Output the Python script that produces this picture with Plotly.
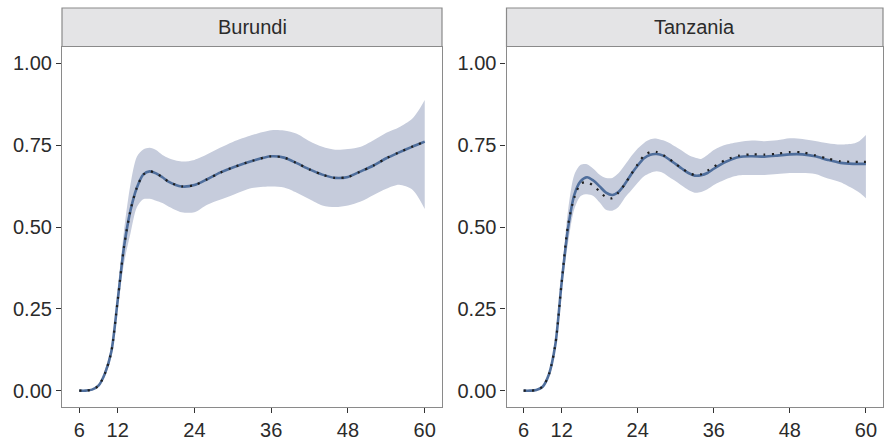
import plotly.graph_objects as go

# Age in months at which each curve is sampled
burundi_age = [6, 7, 8, 9, 10, 11, 12, 13, 14, 15, 16, 17, 18, 19, 20, 22, 24, 26, 28, 30,
               33, 36, 38, 40, 42, 44, 46, 48, 50, 52, 54, 56, 58, 59, 60]
burundi_fit = [0.0, 0.0, 0.003, 0.015, 0.052, 0.118, 0.275, 0.44, 0.55, 0.62, 0.66, 0.67, 0.664,
               0.652, 0.638, 0.624, 0.628, 0.646, 0.666, 0.682, 0.702, 0.716, 0.712, 0.695,
               0.676, 0.66, 0.65, 0.653, 0.67, 0.688, 0.71, 0.728, 0.745, 0.753, 0.761]
burundi_obs = [0.0, 0.0, 0.003, 0.015, 0.052, 0.118, 0.275, 0.44, 0.55, 0.62, 0.66, 0.67, 0.664,
               0.652, 0.638, 0.624, 0.628, 0.646, 0.666, 0.682, 0.702, 0.716, 0.712, 0.695,
               0.676, 0.66, 0.65, 0.653, 0.67, 0.688, 0.71, 0.728, 0.745, 0.753, 0.761]
burundi_hi = [0.0, 0.0, 0.004, 0.018, 0.062, 0.133, 0.30, 0.49, 0.63, 0.715, 0.737, 0.742, 0.735,
              0.72, 0.71, 0.70, 0.705, 0.722, 0.742, 0.76, 0.781, 0.796, 0.795, 0.785, 0.762,
              0.745, 0.736, 0.738, 0.745, 0.765, 0.788, 0.805, 0.83, 0.855, 0.888]
burundi_lo = [0.0, 0.0, 0.002, 0.012, 0.042, 0.103, 0.25, 0.39, 0.48, 0.56, 0.585, 0.586, 0.58,
              0.573, 0.562, 0.545, 0.545, 0.568, 0.583, 0.598, 0.619, 0.624, 0.621, 0.605,
              0.585, 0.566, 0.561, 0.566, 0.578, 0.598, 0.617, 0.629, 0.615, 0.59, 0.555]

tanzania_age = [6, 7, 8, 9, 10, 11, 12, 13, 14, 15, 16, 17, 18, 19, 20, 21, 22, 23, 24, 25, 26,
                27, 28, 29, 30, 31, 32, 33, 34, 35, 36, 37, 38, 40, 42, 44, 46, 48, 50, 52, 54,
                56, 58, 59, 60]
tanzania_fit = [0.0, 0.0, 0.002, 0.012, 0.05, 0.14, 0.33, 0.495, 0.598, 0.64, 0.652, 0.642,
                0.624, 0.605, 0.598, 0.608, 0.632, 0.662, 0.688, 0.71, 0.721, 0.723, 0.718,
                0.706, 0.692, 0.678, 0.665, 0.657, 0.658, 0.665, 0.678, 0.69, 0.70, 0.714,
                0.716, 0.715, 0.718, 0.722, 0.722, 0.716, 0.705, 0.696, 0.693, 0.693, 0.693]
tanzania_obs = [0.0, 0.0, 0.002, 0.012, 0.05, 0.14, 0.33, 0.505, 0.59, 0.632, 0.637, 0.626,
                0.608, 0.591, 0.588, 0.606, 0.632, 0.662, 0.692, 0.718, 0.729, 0.729, 0.72,
                0.708, 0.692, 0.679, 0.666, 0.659, 0.661, 0.672, 0.684, 0.696, 0.706, 0.718,
                0.722, 0.721, 0.724, 0.729, 0.728, 0.719, 0.709, 0.701, 0.699, 0.699, 0.699]
tanzania_hi = [0.0, 0.0, 0.003, 0.014, 0.057, 0.15, 0.35, 0.55, 0.66, 0.69, 0.692, 0.678, 0.66,
               0.65, 0.65, 0.665, 0.69, 0.717, 0.74, 0.757, 0.768, 0.77, 0.765, 0.757, 0.745,
               0.733, 0.72, 0.712, 0.708, 0.72, 0.735, 0.745, 0.752, 0.76, 0.764, 0.762, 0.765,
               0.771, 0.769, 0.763, 0.756, 0.752, 0.755, 0.763, 0.781]
tanzania_lo = [0.0, 0.0, 0.001, 0.01, 0.045, 0.13, 0.31, 0.45, 0.555, 0.595, 0.60, 0.595, 0.575,
               0.553, 0.55, 0.562, 0.59, 0.612, 0.635, 0.655, 0.665, 0.67, 0.665, 0.652, 0.64,
               0.626, 0.613, 0.605, 0.607, 0.615, 0.628, 0.638, 0.647, 0.658, 0.659, 0.659,
               0.662, 0.665, 0.665, 0.662, 0.648, 0.637, 0.617, 0.605, 0.588]

panel_titles = ["Burundi", "Tanzania"]
x_ticks = [6, 12, 24, 36, 48, 60]
y_ticks = [0.0, 0.25, 0.5, 0.75, 1.0]
y_tick_text = ["0.00", "0.25", "0.50", "0.75", "1.00"]

RIBBON = "#c6ccdc"
FIT_LINE = "#4f6e9c"
OBS_DOTS = "#1e1e1e"
BORDER = "#8a8a8a"
TEXT = "#2b2b2b"
FONT = "Liberation Sans, Arial, sans-serif"

W, H = 884, 440
x_domains = [(62 / W, 442 / W), (506.5 / W, 883 / W)]
y_domain = ((H - 407) / H, (H - 47) / H)
strip_y = ((H - 46.5) / H, (H - 8) / H)

fig = go.Figure()

panels = [
    (burundi_age, burundi_fit, burundi_obs, burundi_hi, burundi_lo),
    (tanzania_age, tanzania_fit, tanzania_obs, tanzania_hi, tanzania_lo),
]

for i, (age, fit, obs, hi, lo) in enumerate(panels):
    xa = "x" if i == 0 else "x2"
    ya = "y" if i == 0 else "y2"
    # confidence band: lower edge then upper edge filled to it
    fig.add_trace(go.Scatter(x=age, y=lo, xaxis=xa, yaxis=ya, mode="lines",
                             line=dict(width=0, shape="spline", smoothing=0.8),
                             hoverinfo="skip", showlegend=False))
    fig.add_trace(go.Scatter(x=age, y=hi, xaxis=xa, yaxis=ya, mode="lines",
                             line=dict(width=0, shape="spline", smoothing=0.8),
                             fill="tonexty", fillcolor=RIBBON,
                             hoverinfo="skip", showlegend=False))
    fig.add_trace(go.Scatter(x=age, y=fit, xaxis=xa, yaxis=ya, mode="lines",
                             line=dict(color=FIT_LINE, width=2.6, shape="spline", smoothing=0.8),
                             showlegend=False))
    fig.add_trace(go.Scatter(x=age, y=obs, xaxis=xa, yaxis=ya, mode="lines",
                             line=dict(color=OBS_DOTS, width=2.2, dash="2px,6.5px",
                                       shape="spline", smoothing=0.8),
                             showlegend=False))

axis_common = dict(showgrid=False, zeroline=False, showline=True, mirror=True,
                   linecolor=BORDER, linewidth=1.2, ticks="outside", ticklen=5,
                   tickwidth=1.2, tickcolor="#333333",
                   tickfont=dict(family=FONT, size=20, color=TEXT))

for i in range(2):
    sfx = "" if i == 0 else "2"
    fig.update_layout(**{
        "xaxis" + sfx: dict(axis_common, domain=list(x_domains[i]), range=[3.3, 62.7],
                            tickvals=x_ticks, ticktext=[str(v) for v in x_ticks],
                            anchor="y" + sfx),
        "yaxis" + sfx: dict(axis_common, domain=list(y_domain), range=[-0.05, 1.05],
                            tickvals=y_ticks, ticktext=y_tick_text,
                            anchor="x" + sfx),
    })
    fig.add_shape(type="rect", xref="paper", yref="paper",
                  x0=x_domains[i][0], x1=x_domains[i][1], y0=strip_y[0], y1=strip_y[1],
                  fillcolor="#e4e4e6", line=dict(color=BORDER, width=1.2), layer="below")
    fig.add_annotation(x=(x_domains[i][0] + x_domains[i][1]) / 2, y=(strip_y[0] + strip_y[1]) / 2,
                       xref="paper", yref="paper", text=panel_titles[i], showarrow=False,
                       xanchor="center", yanchor="middle",
                       font=dict(family=FONT, size=20, color=TEXT))

fig.update_layout(width=W, height=H, margin=dict(l=0, r=0, t=0, b=0),
                  paper_bgcolor="white", plot_bgcolor="white", showlegend=False)

fig.write_html("out.html")
